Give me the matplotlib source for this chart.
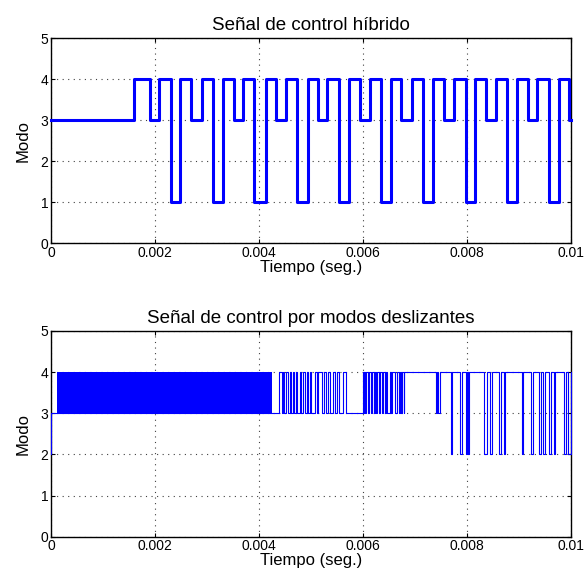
#! /usr/bin/env python

import numpy as np
import matplotlib
matplotlib.use("Agg")
import matplotlib.pyplot as plt
from matplotlib.ticker import FixedLocator, FixedFormatter

plt.rcParams["font.family"] = ["Liberation Sans", "DejaVu Sans"]
plt.rcParams["font.size"] = 10
plt.rcParams["xtick.direction"] = "in"
plt.rcParams["ytick.direction"] = "in"
plt.rcParams["xtick.top"] = True
plt.rcParams["ytick.right"] = True
plt.rcParams["xtick.major.size"] = 3
plt.rcParams["ytick.major.size"] = 3

# ---- data (times in ms) ----
xticks = [0, 0.002, 0.004, 0.006, 0.008, 0.01]
xtick_labels = ['0', '0.002', '0.004', '0.006', '0.008', '0.01']
yticks = [0, 1, 2, 3, 4, 5]

# hybrid control: switching instants and mode held after each one
t_hyb = [0, 1.60, 1.90, 2.08, 2.31, 2.49, 2.70, 2.90, 3.11, 3.30, 3.52, 3.70,
         3.91, 4.13, 4.33, 4.53, 4.74, 4.94, 5.14, 5.31, 5.54, 5.74, 5.94,
         6.13, 6.35, 6.54, 6.74, 6.94, 7.16, 7.35, 7.56, 7.75, 7.98, 8.15,
         8.36, 8.56, 8.78, 8.97, 9.18, 9.36, 9.58, 9.77, 9.97]
m_hyb = [3, 4, 3, 4, 1, 4, 3, 4, 1, 4, 3, 4,
         1, 4, 3, 4, 1, 4, 3, 4, 1, 4, 3,
         4, 1, 4, 3, 4, 1, 4, 3, 4, 1, 4,
         3, 4, 1, 4, 3, 4, 1, 4, 3]

# sliding modes: start level, chattering band, then pulses
sm_start = 2
sm_band = (0.11, 4.25)           # fast chattering between 3 and 4
pulses_3_to_4 = [(4.39, 4.44), (4.47, 4.49), (4.52, 4.56), (4.60, 4.62),
                 (4.65, 4.67), (4.71, 4.73), (4.79, 4.81), (4.85, 4.89),
                 (4.92, 4.95), (4.98, 5.00), (5.08, 5.11), (5.14, 5.21),
                 (5.25, 5.30), (5.33, 5.37), (5.43, 5.46), (5.51, 5.54),
                 (5.61, 5.67), (6.00, 6.02), (6.03, 6.05), (6.07, 6.10),
                 (6.12, 6.15), (6.17, 6.21), (6.23, 6.26), (6.28, 6.31),
                 (6.33, 6.36), (6.38, 6.42), (6.44, 6.47), (6.52, 6.55),
                 (6.57, 6.62), (6.65, 6.69), (6.71, 6.74), (6.76, 6.79)]
hold_4_from = 6.79
pulses_4_to_3 = [(7.40, 7.43), (7.45, 7.48)]
pulses_4_to_2 = [(7.69, 7.72), (7.87, 7.90), (7.98, 8.00), (8.02, 8.04),
                 (8.33, 8.38), (8.44, 8.49), (8.62, 8.65), (8.71, 8.74),
                 (9.06, 9.08), (9.24, 9.28), (9.38, 9.42), (9.47, 9.51),
                 (9.58, 9.62), (9.67, 9.70), (9.87, 9.90), (9.95, 10.0)]

t_end = 10.0

# ---- build step series for sliding modes ----
t_sm = [0, 0]
m_sm = [sm_start, 3]
for a, b in pulses_3_to_4:
    t_sm += [a, a, b, b]
    m_sm += [3, 4, 4, 3]
t_sm += [hold_4_from, hold_4_from]
m_sm += [3, 4]
for lvl, plist in [(3, pulses_4_to_3), (2, pulses_4_to_2)]:
    for a, b in plist:
        t_sm += [a, a, b, b]
        m_sm += [4, lvl, lvl, 4]
if t_sm[-1] < t_end:
    t_sm.append(t_end)
    m_sm.append(m_sm[-1])
t_sm = np.array(t_sm) * 1e-3

t_h = np.array(t_hyb + [t_end]) * 1e-3
m_h = np.array(m_hyb + [m_hyb[-1]])

fig = plt.figure(figsize=(5.86, 5.85), dpi=100)
ax1 = fig.add_axes([0.087, 0.5846, 0.887, 0.3504])
ax2 = fig.add_axes([0.087, 0.0826, 0.887, 0.3516])

ax1.plot(t_h, m_h, drawstyle='steps-post', color='#0000ff', linewidth=2.2,
         clip_on=False, zorder=3)

ax2.fill_between(np.array(sm_band) * 1e-3, 3, 4, color='#0000ff',
                 linewidth=0, zorder=3)
ax2.plot(t_sm, m_sm, color='#0000ff', linewidth=0.8, clip_on=False, zorder=3)

titles = ['Señal de control híbrido', 'Señal de control por modos deslizantes']
for ax, title in zip([ax1, ax2], titles):
    ax.set_xlim(0, 0.01)
    ax.set_ylim(0, 5)
    ax.xaxis.set_major_locator(FixedLocator(xticks))
    ax.xaxis.set_major_formatter(FixedFormatter(xtick_labels))
    ax.set_yticks(yticks)
    ax.grid(True, linestyle=(0, (1, 4)), color='0.25', linewidth=0.8)
    ax.set_axisbelow(True)
    ax.set_title(title, fontsize=13.5, pad=6)
    ax.set_xlabel('Tiempo (seg.)', fontsize=12, labelpad=0)
    ax.set_ylabel('Modo', fontsize=12, labelpad=7)
    for s in ax.spines.values():
        s.set_linewidth(1.0)
    ax.tick_params(labelsize=10, pad=2)

fig.savefig('out.png', dpi=100)
